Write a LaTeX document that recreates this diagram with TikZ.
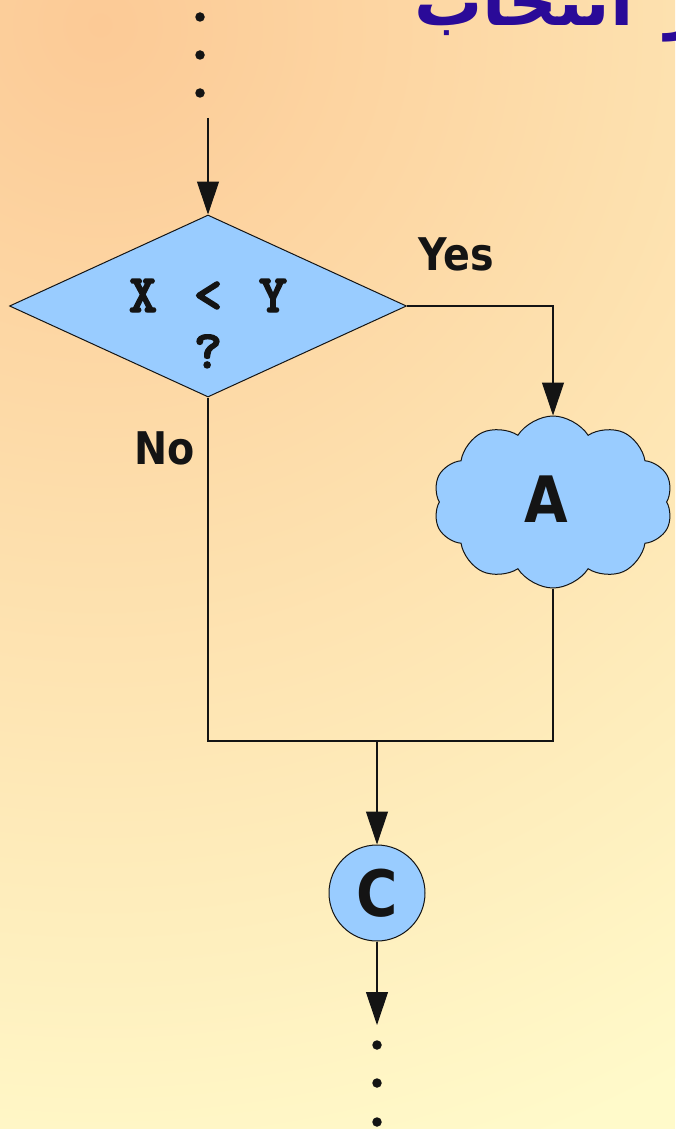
\documentclass[tikz,border=0pt]{standalone}
\usepackage{fontspec}
\usetikzlibrary{shapes.geometric,shapes.symbols,arrows.meta}
\TeXXeTstate=1
\newfontfamily\arabicfont[Script=Arabic]{DejaVu Sans}
\newfontfamily\lblfont[FakeStretch=0.88]{DejaVu Sans}
\newfontfamily\monob[FakeBold=2.5]{lmmonolt10-bold.otf}
\definecolor{bluefill}{RGB}{153,204,255}
\definecolor{bgin}{RGB}{252,202,150}
\definecolor{bgout}{RGB}{255,250,202}
\definecolor{titleblue}{RGB}{42,10,152}
\definecolor{ink}{RGB}{20,20,20}
\newcommand{\mchar}[1]{\makebox[32.5pt]{#1}}
\begin{document}
\begin{tikzpicture}[x=1pt,y=-1pt,
  conn/.style={line width=1.1pt, draw=ink},
  arr/.style={conn, -{Triangle[length=33pt,width=22pt]}},
  dotnode/.style={circle, fill=ink, minimum size=9.5pt, inner sep=0pt},
  shapebox/.style={draw=ink, line width=1pt, fill=bluefill},
  lbl/.style={font=\lblfont\bfseries\fontsize{45}{50}\selectfont, text=ink, inner sep=0pt},
  big/.style={font=\lblfont\bfseries\fontsize{64}{70}\selectfont, text=ink},
  mono/.style={font=\monob\fontsize{54}{58}\selectfont, text=ink, inner sep=0pt}
]
\useasboundingbox (0,0) rectangle (675,1129);
\begin{scope}
\clip (0,0) rectangle (675,1129);
\fill[bgout] (0,0) rectangle (675,1129);
\shade[inner color=bgin, outer color=bgout] (100,25) circle (1200);
\node[anchor=base west, text=titleblue, inner sep=0pt,
  font=\arabicfont\bfseries\fontsize{68}{72}\selectfont] (title) at (414,26) {\beginR ساختار\hspace{32pt}انتخاب\endR};
\end{scope}

% dots
\node[dotnode] (d1) at (200,17) {};
\node[dotnode] (d2) at (200,55) {};
\node[dotnode] (d3) at (200,93) {};
\node[dotnode] (d4) at (377,1045) {};
\node[dotnode] (d5) at (377,1083) {};
\node[dotnode] (d6) at (377,1122) {};

% shapes
\node[diamond, shapebox, minimum width=397pt, minimum height=182pt, aspect=2.18, inner sep=0pt] (dia) at (208,306) {};
\node[mono, anchor=base] (q1) at (208,312) {\mchar{X}\mchar{}\mchar{<}\mchar{}\mchar{Y}};
\node[mono, anchor=base] (q2) at (208,368) {?};

\node[cloud, shapebox, cloud puffs=10, cloud puff arc=115, cloud ignores aspect,
  minimum width=240pt, minimum height=172pt, inner sep=0pt] (A) at (553,502) {};
\node[big, inner sep=0pt] (At) at (546,499) {A};

\node[circle, shapebox, minimum size=96pt, inner sep=0pt, big] (C) at (377,893) {C};

% labels
\node[lbl, anchor=base] (yes) at (456,270) {Yes};
\node[lbl, anchor=base] (no) at (165,464) {No};

% coordinates
\coordinate (top) at (208,118);
\coordinate (j) at (377,741);
\coordinate (bot) at (377,1025);

% connectors
\draw[arr] (top) -- (dia.north);
\draw[arr] (dia.east) -| (A.north);
\draw[conn] (dia.south) |- (j) -| (A.south);
\draw[arr] (j) -- (C.north);
\draw[arr] (C.south) -- (bot);
\end{tikzpicture}
\end{document}
